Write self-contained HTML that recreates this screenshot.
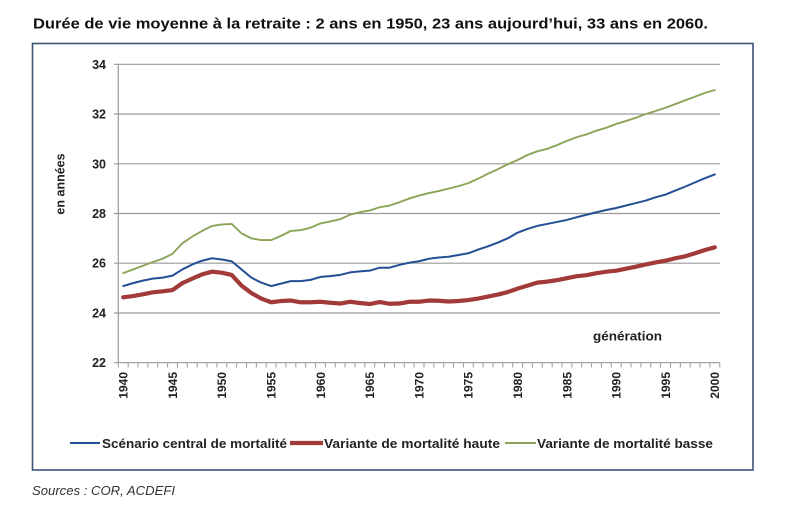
<!DOCTYPE html>
<html><head><meta charset="utf-8"><style>
html,body{margin:0;padding:0;background:#fff;}
svg{display:block;}
text{font-family:"Liberation Sans",Arial,sans-serif;}
</style></head><body>
<svg width="800" height="505" viewBox="0 0 800 505" xmlns="http://www.w3.org/2000/svg">
<rect width="800" height="505" fill="#fff"/>
<text x="33" y="28.3" font-size="14.7" font-weight="bold" fill="#111" textLength="675" lengthAdjust="spacingAndGlyphs">Durée de vie moyenne à la retraite : 2 ans en 1950, 23 ans aujourd’hui, 33 ans en 2060.</text>
<rect x="32.5" y="43.5" width="720.5" height="426.5" fill="#fff" stroke="#3b5478" stroke-width="1.6"/>
<g stroke="#9a9a9a" stroke-width="1.2">
<line x1="114" y1="64.3" x2="720" y2="64.3"/>
<line x1="114" y1="114" x2="720" y2="114"/>
<line x1="114" y1="163.8" x2="720" y2="163.8"/>
<line x1="114" y1="213.5" x2="720" y2="213.5"/>
<line x1="114" y1="263.2" x2="720" y2="263.2"/>
<line x1="114" y1="313" x2="720" y2="313"/>
<line x1="114" y1="362.7" x2="720" y2="362.7"/>
<line x1="118.3" y1="64.3" x2="118.3" y2="362.7"/>
</g>
<g id="xt" stroke="#9a9a9a" stroke-width="1"></g>
<g font-size="12.5" font-weight="bold" fill="#222" text-anchor="end">
<text x="106" y="68.8">34</text>
<text x="106" y="118.5">32</text>
<text x="106" y="168.3">30</text>
<text x="106" y="218">28</text>
<text x="106" y="267.7">26</text>
<text x="106" y="317.5">24</text>
<text x="106" y="367.2">22</text>
</g>
<text transform="translate(64.5,184) rotate(-90)" font-size="12.5" font-weight="bold" fill="#222" text-anchor="middle">en années</text>
<g id="xl" font-size="12" font-weight="bold" fill="#222" text-anchor="end"></g>
<text x="593" y="340.5" font-size="13" font-weight="bold" fill="#222" textLength="69" lengthAdjust="spacingAndGlyphs">génération</text>
<g transform="translate(123.2,362.7) scale(9.86,-24.87)" fill="none" stroke-linejoin="round" stroke-linecap="round">
<polyline vector-effect="non-scaling-stroke" stroke="#8ba457" stroke-width="1.9" points="0,3.6 1,3.75 2,3.9 3,4.05 4,4.18 5,4.38 6,4.8 7,5.07 8,5.3 9,5.5 10,5.56 11,5.58 12,5.2 13,5.0 14,4.93 15,4.93 16,5.1 17,5.3 18,5.33 19,5.43 20,5.6 21,5.68 22,5.77 23,5.95 24,6.05 25,6.12 26,6.25 27,6.32 28,6.45 29,6.6 30,6.72 31,6.82 32,6.9 33,7.0 34,7.1 35,7.22 36,7.4 37,7.6 38,7.78 39,7.98 40,8.15 41,8.35 42,8.5 43,8.6 44,8.75 45,8.92 46,9.07 47,9.18 48,9.33 49,9.45 50,9.6 51,9.72 52,9.85 53,10.0 54,10.12 55,10.25 56,10.4 57,10.55 58,10.7 59,10.85 60,10.96"/>
<polyline vector-effect="non-scaling-stroke" stroke="#a23a3a" stroke-width="4.2" points="0,2.63 1,2.68 2,2.75 3,2.83 4,2.87 5,2.92 6,3.2 7,3.38 8,3.55 9,3.66 10,3.62 11,3.53 12,3.1 13,2.8 14,2.58 15,2.43 16,2.48 17,2.5 18,2.43 19,2.43 20,2.45 21,2.41 22,2.38 23,2.45 24,2.4 25,2.36 26,2.44 27,2.37 28,2.38 29,2.45 30,2.45 31,2.5 32,2.49 33,2.46 34,2.48 35,2.52 36,2.58 37,2.66 38,2.74 39,2.84 40,2.98 41,3.1 42,3.22 43,3.26 44,3.32 45,3.4 46,3.48 47,3.52 48,3.6 49,3.66 50,3.7 51,3.78 52,3.86 53,3.95 54,4.03 55,4.1 56,4.2 57,4.28 58,4.4 59,4.53 60,4.64"/>
<polyline vector-effect="non-scaling-stroke" stroke="#234f95" stroke-width="2" points="0,3.08 1,3.2 2,3.3 3,3.38 4,3.42 5,3.5 6,3.75 7,3.95 8,4.1 9,4.2 10,4.15 11,4.08 12,3.75 13,3.42 14,3.22 15,3.08 16,3.18 17,3.28 18,3.28 19,3.33 20,3.45 21,3.48 22,3.53 23,3.63 24,3.67 25,3.7 26,3.82 27,3.82 28,3.93 29,4.02 30,4.08 31,4.18 32,4.23 33,4.26 34,4.33 35,4.4 36,4.55 37,4.68 38,4.83 39,5.0 40,5.23 41,5.38 42,5.5 43,5.58 44,5.66 45,5.74 46,5.85 47,5.95 48,6.05 49,6.14 50,6.22 51,6.32 52,6.42 53,6.52 54,6.65 55,6.76 56,6.92 57,7.08 58,7.25 59,7.42 60,7.57"/>
</g>
<line x1="70" y1="443" x2="100" y2="443" stroke="#234f95" stroke-width="2"/>
<text x="102" y="448" font-size="12.5" font-weight="bold" fill="#222" textLength="185" lengthAdjust="spacingAndGlyphs">Scénario central de mortalité</text>
<line x1="290" y1="443" x2="323" y2="443" stroke="#a23a3a" stroke-width="4.2"/>
<text x="324" y="448" font-size="12.5" font-weight="bold" fill="#222" textLength="176" lengthAdjust="spacingAndGlyphs">Variante de mortalité haute</text>
<line x1="505" y1="443" x2="536" y2="443" stroke="#8ba457" stroke-width="1.9"/>
<text x="537" y="448" font-size="12.5" font-weight="bold" fill="#222" textLength="176" lengthAdjust="spacingAndGlyphs">Variante de mortalité basse</text>
<text x="32" y="495" font-size="13" font-style="italic" fill="#333" textLength="143" lengthAdjust="spacingAndGlyphs">Sources : COR, ACDEFI</text>
<g stroke="#9a9a9a" stroke-width="1">
<line x1="118.3" y1="362.7" x2="118.3" y2="367.5"/>
<line x1="128.16" y1="362.7" x2="128.16" y2="367.5"/>
<line x1="138.02" y1="362.7" x2="138.02" y2="367.5"/>
<line x1="147.88" y1="362.7" x2="147.88" y2="367.5"/>
<line x1="157.74" y1="362.7" x2="157.74" y2="367.5"/>
<line x1="167.6" y1="362.7" x2="167.6" y2="367.5"/>
<line x1="177.46" y1="362.7" x2="177.46" y2="367.5"/>
<line x1="187.32" y1="362.7" x2="187.32" y2="367.5"/>
<line x1="197.18" y1="362.7" x2="197.18" y2="367.5"/>
<line x1="207.04" y1="362.7" x2="207.04" y2="367.5"/>
<line x1="216.9" y1="362.7" x2="216.9" y2="367.5"/>
<line x1="226.76" y1="362.7" x2="226.76" y2="367.5"/>
<line x1="236.62" y1="362.7" x2="236.62" y2="367.5"/>
<line x1="246.48" y1="362.7" x2="246.48" y2="367.5"/>
<line x1="256.34" y1="362.7" x2="256.34" y2="367.5"/>
<line x1="266.2" y1="362.7" x2="266.2" y2="367.5"/>
<line x1="276.06" y1="362.7" x2="276.06" y2="367.5"/>
<line x1="285.92" y1="362.7" x2="285.92" y2="367.5"/>
<line x1="295.78" y1="362.7" x2="295.78" y2="367.5"/>
<line x1="305.64" y1="362.7" x2="305.64" y2="367.5"/>
<line x1="315.5" y1="362.7" x2="315.5" y2="367.5"/>
<line x1="325.36" y1="362.7" x2="325.36" y2="367.5"/>
<line x1="335.22" y1="362.7" x2="335.22" y2="367.5"/>
<line x1="345.08" y1="362.7" x2="345.08" y2="367.5"/>
<line x1="354.94" y1="362.7" x2="354.94" y2="367.5"/>
<line x1="364.8" y1="362.7" x2="364.8" y2="367.5"/>
<line x1="374.66" y1="362.7" x2="374.66" y2="367.5"/>
<line x1="384.52" y1="362.7" x2="384.52" y2="367.5"/>
<line x1="394.38" y1="362.7" x2="394.38" y2="367.5"/>
<line x1="404.24" y1="362.7" x2="404.24" y2="367.5"/>
<line x1="414.1" y1="362.7" x2="414.1" y2="367.5"/>
<line x1="423.96" y1="362.7" x2="423.96" y2="367.5"/>
<line x1="433.82" y1="362.7" x2="433.82" y2="367.5"/>
<line x1="443.68" y1="362.7" x2="443.68" y2="367.5"/>
<line x1="453.54" y1="362.7" x2="453.54" y2="367.5"/>
<line x1="463.4" y1="362.7" x2="463.4" y2="367.5"/>
<line x1="473.26" y1="362.7" x2="473.26" y2="367.5"/>
<line x1="483.12" y1="362.7" x2="483.12" y2="367.5"/>
<line x1="492.98" y1="362.7" x2="492.98" y2="367.5"/>
<line x1="502.84" y1="362.7" x2="502.84" y2="367.5"/>
<line x1="512.7" y1="362.7" x2="512.7" y2="367.5"/>
<line x1="522.56" y1="362.7" x2="522.56" y2="367.5"/>
<line x1="532.42" y1="362.7" x2="532.42" y2="367.5"/>
<line x1="542.28" y1="362.7" x2="542.28" y2="367.5"/>
<line x1="552.14" y1="362.7" x2="552.14" y2="367.5"/>
<line x1="562" y1="362.7" x2="562" y2="367.5"/>
<line x1="571.86" y1="362.7" x2="571.86" y2="367.5"/>
<line x1="581.72" y1="362.7" x2="581.72" y2="367.5"/>
<line x1="591.58" y1="362.7" x2="591.58" y2="367.5"/>
<line x1="601.44" y1="362.7" x2="601.44" y2="367.5"/>
<line x1="611.3" y1="362.7" x2="611.3" y2="367.5"/>
<line x1="621.16" y1="362.7" x2="621.16" y2="367.5"/>
<line x1="631.02" y1="362.7" x2="631.02" y2="367.5"/>
<line x1="640.88" y1="362.7" x2="640.88" y2="367.5"/>
<line x1="650.74" y1="362.7" x2="650.74" y2="367.5"/>
<line x1="660.6" y1="362.7" x2="660.6" y2="367.5"/>
<line x1="670.46" y1="362.7" x2="670.46" y2="367.5"/>
<line x1="680.32" y1="362.7" x2="680.32" y2="367.5"/>
<line x1="690.18" y1="362.7" x2="690.18" y2="367.5"/>
<line x1="700.04" y1="362.7" x2="700.04" y2="367.5"/>
<line x1="709.9" y1="362.7" x2="709.9" y2="367.5"/>
<line x1="719.76" y1="362.7" x2="719.76" y2="367.5"/>
</g>
<g font-size="12" font-weight="bold" fill="#222" text-anchor="end">
<text transform="translate(127.6,372) rotate(-90)">1940</text>
<text transform="translate(176.9,372) rotate(-90)">1945</text>
<text transform="translate(226.2,372) rotate(-90)">1950</text>
<text transform="translate(275.5,372) rotate(-90)">1955</text>
<text transform="translate(324.8,372) rotate(-90)">1960</text>
<text transform="translate(374.1,372) rotate(-90)">1965</text>
<text transform="translate(423.4,372) rotate(-90)">1970</text>
<text transform="translate(472.7,372) rotate(-90)">1975</text>
<text transform="translate(522,372) rotate(-90)">1980</text>
<text transform="translate(571.3,372) rotate(-90)">1985</text>
<text transform="translate(620.6,372) rotate(-90)">1990</text>
<text transform="translate(669.9,372) rotate(-90)">1995</text>
<text transform="translate(719.2,372) rotate(-90)">2000</text>
</g>
</svg>
</body></html>
